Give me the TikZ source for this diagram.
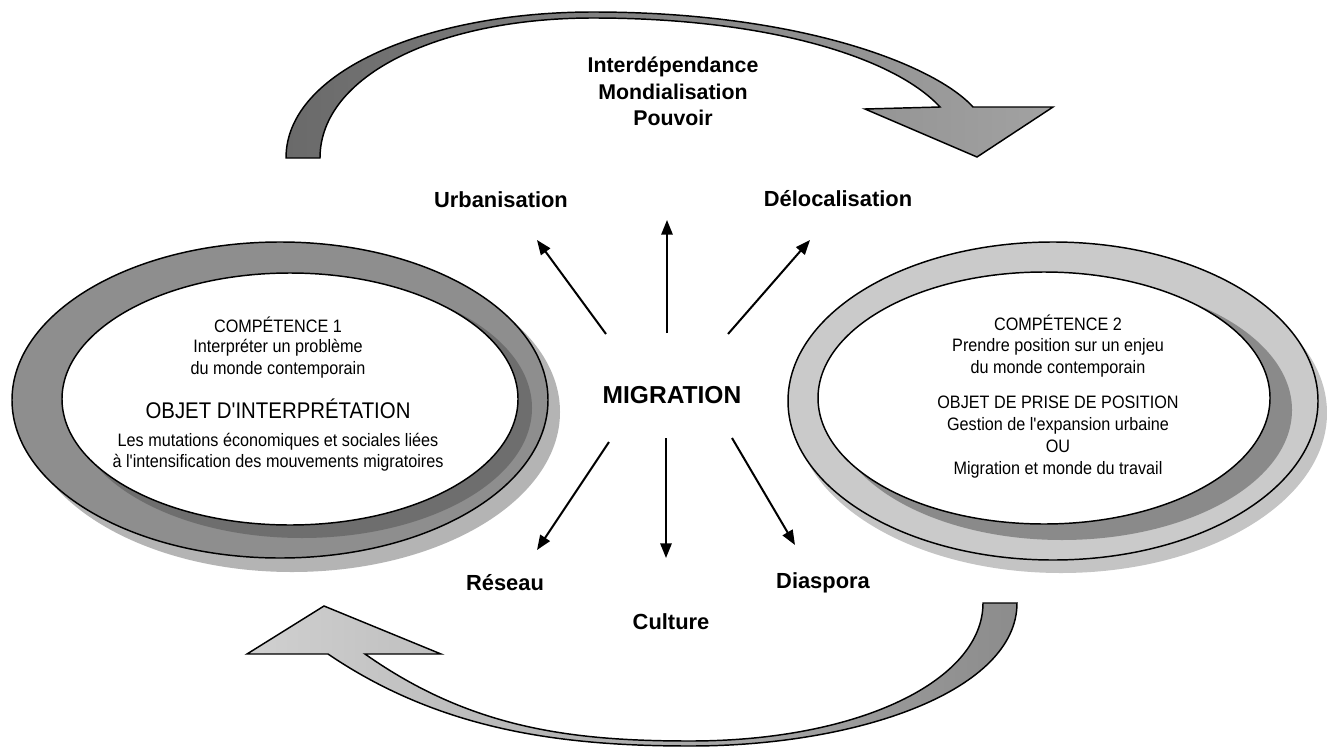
\documentclass[tikz,border=0pt]{standalone}
\usepackage{fontspec}
\setmainfont{Liberation Sans}
\newfontfamily\narrowfont{Liberation Sans}[FakeStretch=0.9]
\usetikzlibrary{arrows.meta}
\definecolor{lshadow}{HTML}{B4B4B4}
\definecolor{lring}{HTML}{8E8E8E}
\definecolor{lband}{HTML}{6E6E6E}
\definecolor{rshadow}{HTML}{C4C4C4}
\definecolor{rring}{HTML}{CACACA}
\definecolor{rband}{HTML}{8A8A8A}
\definecolor{topdark}{HTML}{6A6A6A}
\definecolor{toplight}{HTML}{A2A2A2}
\definecolor{botlight}{HTML}{D0D0D0}
\definecolor{botdark}{HTML}{8C8C8C}
\begin{document}
\begin{tikzpicture}[x=0.75pt,y=-0.75pt,
  lbl/.style={font=\bfseries\fontsize{16.4}{19}\selectfont, inner sep=0pt},
  toplbl/.style={font=\bfseries\fontsize{16}{19}\selectfont, inner sep=0pt},
  biglbl/.style={font=\bfseries\fontsize{18.4}{21}\selectfont, inner sep=0pt},
  etext/.style={font=\narrowfont\fontsize{13.5}{16.5}\selectfont, align=center, inner sep=0pt},
  ehead/.style={font=\narrowfont\fontsize{17}{20}\selectfont, align=center, inner sep=0pt},
  ray/.style={line width=1.5pt, -{Triangle[length=11pt,width=8.5pt]}},
  outline/.style={draw=black, line width=1.1pt}]
\useasboundingbox (0,0) rectangle (1327,746);
\fill[white] (0,0) rectangle (1327,746);

% ---------- top curved arrow ----------
\path[left color=topdark, right color=toplight, draw=black, line width=1.1pt, line join=miter]
  (286,158) .. controls (286,70) and (430,12) .. (593,12)
  .. controls (800,12) and (935,65) .. (973,107)
  -- (1053,107) -- (977,157) -- (865,109) -- (940,107)
  .. controls (895,58) and (770,18) .. (593,18)
  .. controls (440,18) and (320,75) .. (320,158) -- cycle;

% ---------- bottom curved arrow ----------
\path[left color=botlight, right color=botdark, draw=black, line width=1.1pt, line join=miter]
  (983,603) -- (1017,603)
  .. controls (1017,690) and (860,746) .. (690,746)
  .. controls (560,746) and (440,730) .. (328,654)
  -- (247,654) -- (324,606) -- (441,654) -- (365,654)
  .. controls (470,728) and (570,741) .. (690,741)
  .. controls (860,741) and (983,680) .. (983,603) -- cycle;

% ---------- left ellipse ----------
\fill[lshadow] (292,412) ellipse [x radius=268, y radius=160];
\fill[lring] (280,400) ellipse [x radius=268, y radius=158];
\draw[outline] (280,400) ellipse [x radius=268, y radius=158];
\fill[lband] (302,408) ellipse [x radius=230, y radius=130];
\fill[white] (290,399) ellipse [x radius=228, y radius=126];
\draw[outline] (290,399) ellipse [x radius=228, y radius=126];

% ---------- right ellipse ----------
\fill[rshadow] (1061,413) ellipse [x radius=266, y radius=160];
\fill[rring] (1053,401) ellipse [x radius=265, y radius=159];
\draw[outline] (1053,401) ellipse [x radius=265, y radius=159];
\fill[rband] (1062,410) ellipse [x radius=230, y radius=130];
\fill[white] (1044,398) ellipse [x radius=226, y radius=126];
\draw[outline] (1044,398) ellipse [x radius=226, y radius=126];

% ---------- ellipse texts ----------
\node[etext] (c1a) at (278,325) {COMPÉTENCE 1};
\node[etext] (c1b) at (278,359) {Interpréter un problème\\du monde contemporain};
\node[ehead] (c1c) at (278,409) {OBJET D'INTERPRÉTATION};
\node[etext, font=\narrowfont\fontsize{13.5}{15.75}\selectfont] (c1d) at (278,452) {Les mutations économiques et sociales liées\\à l'intensification des mouvements migratoires};

\node[etext] (c2a) at (1058,323) {COMPÉTENCE 2};
\node[etext] (c2b) at (1058,358) {Prendre position sur un enjeu\\du monde contemporain};
\node[etext] (c2c) at (1058,402) {OBJET DE PRISE DE POSITION};
\node[etext] (c2d) at (1058,448) {Gestion de l'expansion urbaine\\OU\\Migration et monde du travail};

% ---------- labels ----------
\node[toplbl] (inter) at (673,67) {Interdépendance};
\node[toplbl] (mondi) at (673,92) {Mondialisation};
\node[toplbl] (pouv) at (673,118) {Pouvoir};
\node[lbl] (urb) at (501,200) {Urbanisation};
\node[lbl] (deloc) at (838,199) {Délocalisation};
\node[biglbl] (migr) at (672,395) {MIGRATION};
\node[lbl] (res) at (505,583) {Réseau};
\node[lbl] (dias) at (823,583) {Diaspora};
\node[lbl] (cult) at (671,622) {Culture};

% ---------- rays ----------
\coordinate (upS) at (667,333);  \coordinate (upE) at (667,220);
\coordinate (ulS) at (606,334);  \coordinate (ulE) at (537,240);
\coordinate (urS) at (728,334);  \coordinate (urE) at (810,240);
\coordinate (dnS) at (666,438);  \coordinate (dnE) at (666,558);
\coordinate (dlS) at (609,442);  \coordinate (dlE) at (537,550);
\coordinate (drS) at (732,438);  \coordinate (drE) at (795,545);
\draw[ray] (upS) -- (upE);
\draw[ray] (ulS) -- (ulE);
\draw[ray] (urS) -- (urE);
\draw[ray] (dnS) -- (dnE);
\draw[ray] (dlS) -- (dlE);
\draw[ray] (drS) -- (drE);
\end{tikzpicture}
\end{document}
